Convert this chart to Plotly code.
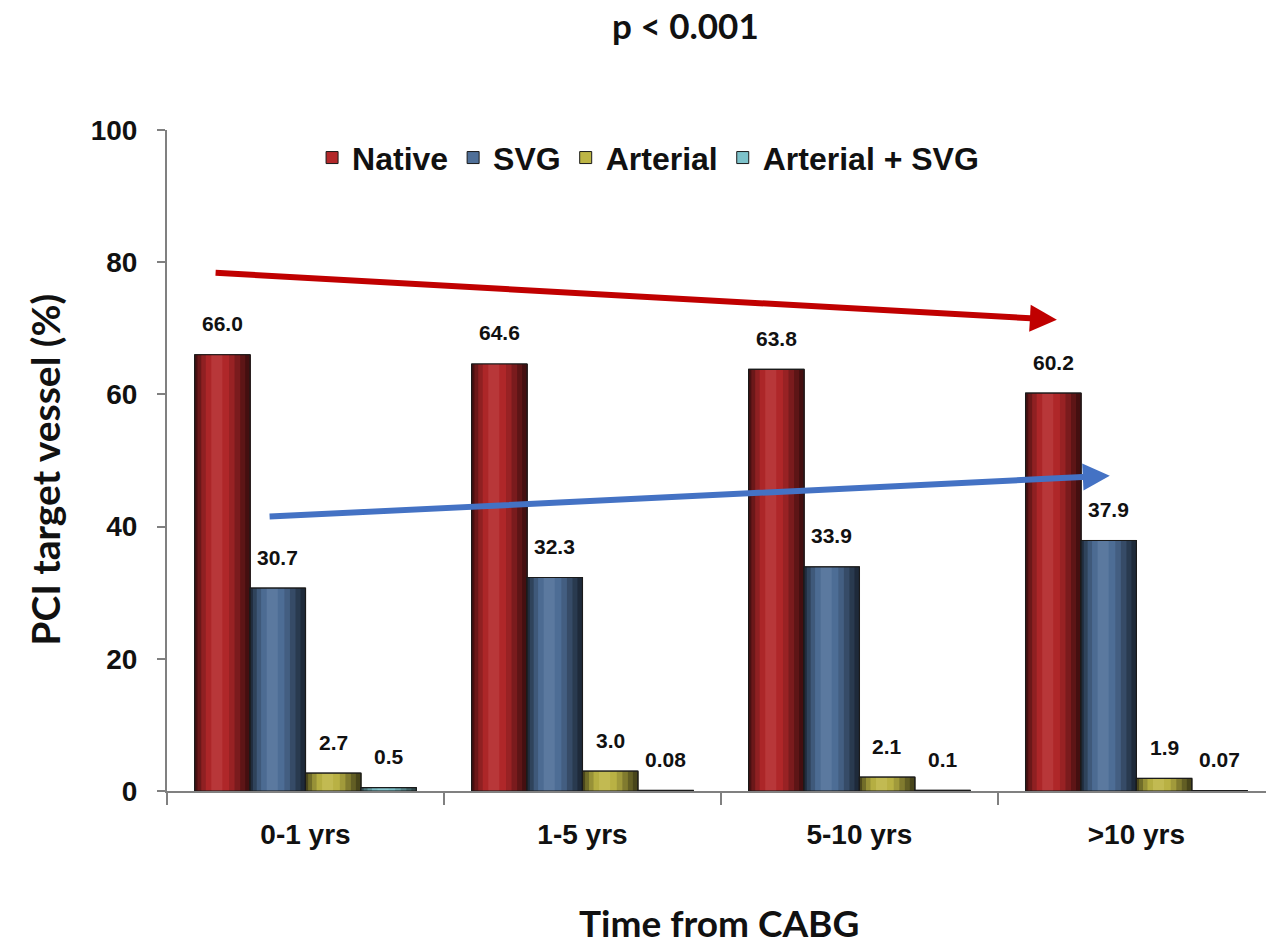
import plotly.graph_objects as go

# ---- data ----
categories = ["0-1 yrs", "1-5 yrs", "5-10 yrs", ">10 yrs"]
series_names = ["Native", "SVG", "Arterial", "Arterial + SVG"]
native = [66.0, 64.6, 63.8, 60.2]
svg = [30.7, 32.3, 33.9, 37.9]
arterial = [2.7, 3.0, 2.1, 1.9]
arterial_svg = [0.5, 0.08, 0.1, 0.07]
series_values = [native, svg, arterial, arterial_svg]

# ---- style ----
base_colors = ["#B3282A", "#4F6F98", "#BDB545", "#7DC2CA"]
# stripes (fraction start, fraction end, brightness) to imitate the cylinder shading
stripes = [(0.00, 0.05, 0.40), (0.05, 0.12, 0.60), (0.12, 0.20, 0.80),
           (0.20, 0.30, 0.96), (0.30, 0.50, 1.07), (0.50, 0.62, 0.98),
           (0.62, 0.72, 0.85), (0.72, 0.82, 0.68), (0.82, 0.91, 0.52),
           (0.91, 1.00, 0.38)]
SANS = "Liberation Sans Narrow, Arial Narrow, Liberation Sans, Arial, sans-serif"
CAL = "Lato, Open Sans, sans-serif"
group_w = 0.8
n_series = len(series_names)
bar_w = group_w / n_series


def shade(hexcol, f):
    r, g, b = (int(hexcol[i:i + 2], 16) for i in (1, 3, 5))
    if f <= 1:
        r, g, b = r * f, g * f, b * f
    else:
        t = f - 1
        r, g, b = r + (255 - r) * t, g + (255 - g) * t, b + (255 - b) * t
    return "rgb(%d,%d,%d)" % (round(r), round(g), round(b))


fig = go.Figure()
for s, (name, vals, col) in enumerate(zip(series_names, series_values, base_colors)):
    left = -group_w / 2 + s * bar_w
    # base bar (legend entry)
    fig.add_trace(go.Bar(
        x=categories, y=vals, name=name, legendgroup=name,
        offset=left, width=bar_w,
        marker=dict(color=col, line=dict(color="#1a1a1a", width=1)),
        hoverinfo="skip"))
    for f0, f1, br in stripes:
        fig.add_trace(go.Bar(
            x=categories, y=vals, legendgroup=name, showlegend=False,
            offset=left + bar_w * f0, width=bar_w * (f1 - f0) + 0.002,
            marker=dict(color=shade(col, br), line=dict(width=0)),
            hoverinfo="skip"))
    fig.add_trace(go.Bar(
        x=categories, y=vals, legendgroup=name, showlegend=False,
        offset=left, width=bar_w,
        marker=dict(color="rgba(0,0,0,0)", line=dict(color="#1a1a1a", width=1.2)),
        hoverinfo="skip"))

annotations = []
# value labels
for s, vals in enumerate(series_values):
    for i, v in enumerate(vals):
        annotations.append(dict(
            x=i - group_w / 2 + (s + 0.5) * bar_w, y=v, xref="x", yref="y",
            text=str(v), showarrow=False, yanchor="middle", xanchor="center", yshift=31,
            font=dict(family=SANS, size=21, color="#111", weight="bold")))

# trend arrows
annotations.append(dict(x=2.713, y=71.3, ax=-0.33, ay=78.4, xref="x", yref="y",
                        axref="x", ayref="y", text="", showarrow=True,
                        arrowhead=2, arrowwidth=6, arrowsize=0.9, arrowcolor="#C00000"))
annotations.append(dict(x=2.904, y=47.7, ax=-0.135, ay=41.5, xref="x", yref="y",
                        axref="x", ayref="y", text="", showarrow=True,
                        arrowhead=2, arrowwidth=6, arrowsize=0.9, arrowcolor="#4472C4"))

# titles
annotations.append(dict(x=0.472, y=1.159, xref="paper", yref="paper", text="p < 0.001",
                        xanchor="center", yanchor="middle", showarrow=False,
                        font=dict(family=CAL, size=35, color="#111", weight="bold")))
annotations.append(dict(x=0.502, y=-0.199, xref="paper", yref="paper", text="Time from CABG",
                        xanchor="center", yanchor="middle", showarrow=False,
                        font=dict(family=CAL, size=37, color="#111", weight="bold")))
annotations.append(dict(x=-0.111, y=0.486, xref="paper", yref="paper", text="PCI target vessel (%)",
                        xanchor="center", yanchor="middle", textangle=-90, showarrow=False,
                        font=dict(family=CAL, size=39, color="#111", weight="bold")))

fig.update_layout(
    width=1266, height=947,
    margin=dict(l=167, r=0, t=130, b=156),
    paper_bgcolor="white", plot_bgcolor="white",
    barmode="overlay",
    showlegend=True,
    legend=dict(orientation="h", x=0.132, y=0.958, xanchor="left", yanchor="middle",
                font=dict(family=SANS, size=32, color="#111", weight="bold"),
                bgcolor="rgba(0,0,0,0)", itemwidth=30, traceorder="normal"),
    annotations=annotations,
    xaxis=dict(type="category", categoryorder="array", categoryarray=categories,
               range=[-0.5, 3.468], tickson="boundaries", ticks="outside", ticklen=12,
               tickwidth=2, tickcolor="#808080", showline=True, linecolor="#808080",
               linewidth=2, showgrid=False, zeroline=False, ticklabelstandoff=17,
               tickfont=dict(family=SANS, size=28, color="#111", weight="bold")),
    yaxis=dict(range=[0, 100], tickvals=[0, 20, 40, 60, 80, 100], ticks="outside",
               ticklen=8, tickwidth=2, tickcolor="#808080", showline=True,
               linecolor="#808080", linewidth=2, showgrid=False, zeroline=False,
               ticklabelstandoff=14,
               tickfont=dict(family=SANS, size=28, color="#111", weight="bold")),
)

fig.write_html("out.html")
